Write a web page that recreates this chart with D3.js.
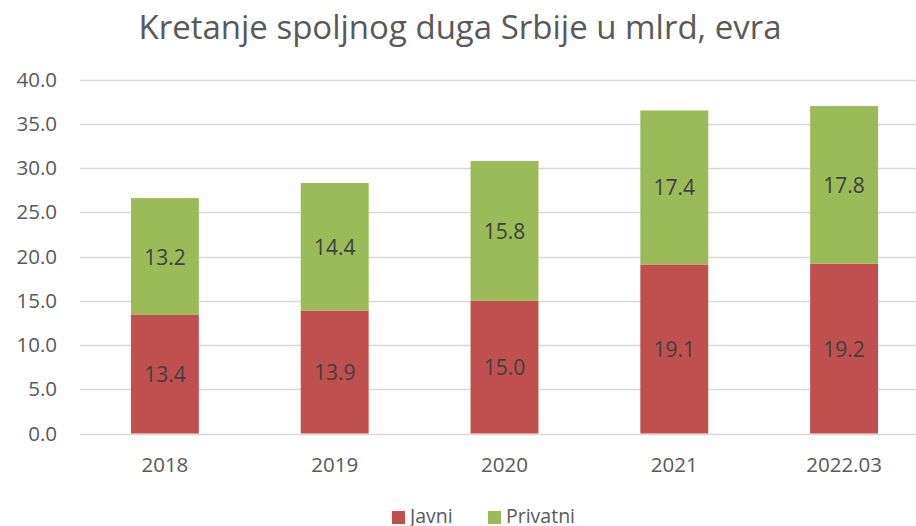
<!DOCTYPE html>
<html>
<head>
<meta charset="utf-8">
<script src="https://cdn.jsdelivr.net/npm/d3@7"></script>
<style>
  body { margin: 0; background: #fff; }
  svg { display: block; font-family: "Open Sans", "Noto Sans", sans-serif; }
</style>
</head>
<body>
<script>
var w = 916, h = 526;

var categories = ["2018", "2019", "2020", "2021", "2022.03"];
var javni = [13.4, 13.9, 15.0, 19.1, 19.2];
var privatni = [13.2, 14.4, 15.8, 17.4, 17.8];
var yTicks = [0, 5, 10, 15, 20, 25, 30, 35, 40];
var seriesNames = ["Javni", "Privatni"];
var colours = ["#C0504D", "#9BBB59"];

var svg = d3.select("body").append("svg")
    .attr("width", w)
    .attr("height", h);

var x = d3.scaleBand().domain(categories).range([80, 929]);
var y = d3.scaleLinear().domain([0, 40]).range([433.5, 79.5]);
var barW = x.bandwidth() * 0.4;

// title
svg.append("text")
    .attr("x", 460).attr("y", 39)
    .attr("text-anchor", "middle")
    .attr("fill", "#595959")
    .style("font-size", "33px")
    .text("Kretanje spoljnog duga Srbije u mlrd, evra");

// gridlines
svg.selectAll(".grid")
    .data(yTicks)
    .enter()
    .append("line")
    .attr("x1", 80).attr("x2", 929)
    .attr("y1", function(d){ return Math.round(y(d)) + 0.5; })
    .attr("y2", function(d){ return Math.round(y(d)) + 0.5; })
    .attr("stroke", "#d9d9d9")
    .attr("stroke-width", 1.5);

// y labels
svg.selectAll(".ylab")
    .data(yTicks)
    .enter()
    .append("text")
    .attr("x", 57)
    .attr("y", function(d){ return y(d) + 7; })
    .attr("text-anchor", "end")
    .attr("fill", "#595959")
    .style("font-size", "20.5px")
    .text(function(d){ return d.toFixed(1); });

// x labels
svg.selectAll(".xlab")
    .data(categories)
    .enter()
    .append("text")
    .attr("x", function(d){ return x(d) + x.bandwidth() / 2; })
    .attr("y", 472)
    .attr("text-anchor", "middle")
    .attr("fill", "#595959")
    .style("font-size", "20.5px")
    .text(function(d){ return d; });

var stackData = categories.map(function(c, i){
    return { cat: c, Javni: javni[i], Privatni: privatni[i] };
});
var stacked = d3.stack().keys(seriesNames)(stackData);

stacked.forEach(function(layer, li){
    var g = svg.append("g");
    g.selectAll("rect")
        .data(layer)
        .enter()
        .append("rect")
        .attr("x", function(d){ return x(d.data.cat) + (x.bandwidth() - barW) / 2; })
        .attr("width", barW)
        .attr("y", function(d){ return y(d[1]); })
        .attr("height", function(d){ return y(d[0]) - y(d[1]); })
        .attr("fill", colours[li]);
    g.selectAll("text")
        .data(layer)
        .enter()
        .append("text")
        .attr("x", function(d){ return x(d.data.cat) + x.bandwidth() / 2; })
        .attr("y", function(d){ return (y(d[0]) + y(d[1])) / 2 + 8; })
        .attr("text-anchor", "middle")
        .attr("fill", "#404040")
        .style("font-size", "21px")
        .text(function(d){ return (d[1] - d[0]).toFixed(1); });
});

// legend
var legX = [392, 488];
seriesNames.forEach(function(name, i){
    svg.append("rect")
        .attr("x", legX[i]).attr("y", 511)
        .attr("width", 13).attr("height", 13)
        .attr("fill", colours[i]);
    svg.append("text")
        .attr("x", legX[i] + 18).attr("y", 523)
        .attr("fill", "#595959")
        .style("font-size", "19.5px")
        .text(name);
});
</script>
</body>
</html>
